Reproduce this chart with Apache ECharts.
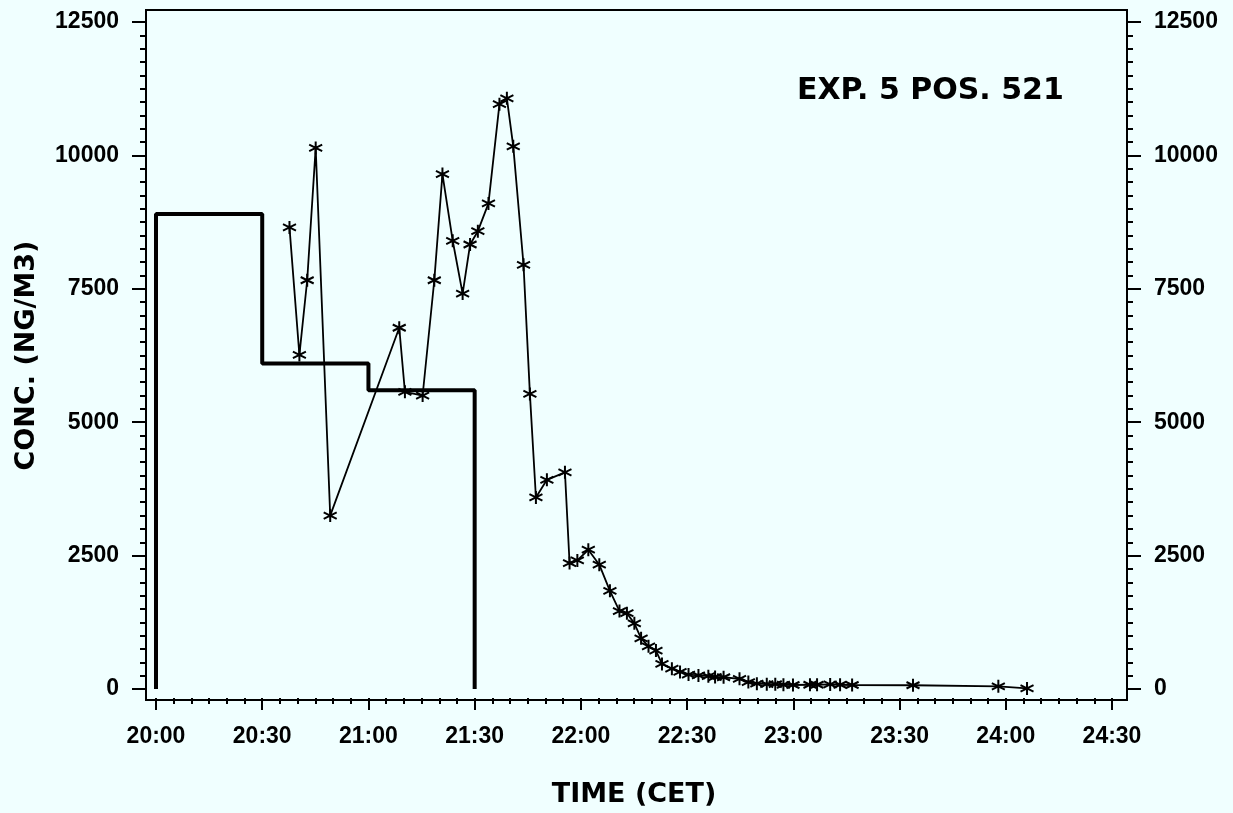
<!DOCTYPE html>
<html>
<head>
<meta charset="utf-8">
<script src="https://cdn.jsdelivr.net/npm/echarts@6/dist/echarts.min.js"></script>
<style>
  html, body { margin: 0; padding: 0; background: #f0ffff; }
  #chart { width: 1233px; height: 813px; }
</style>
</head>
<body>
<div id="chart"></div>
<script>
// minutes after 20:00
var timeLabels = ['20:00', '20:30', '21:00', '21:30', '22:00', '22:30', '23:00', '23:30', '24:00', '24:30'];

// sampler (step) concentration, ng/m3
var stepTime = [0, 0, 30, 60, 90];
var stepConc = [0, 8900, 6100, 5600, 0];

// continuous measurement (asterisks)
var measTime = [37.7, 40.5, 42.7, 45.1, 49.2, 68.7, 70.3, 75.3, 78.6, 80.9,
    83.8, 86.6, 88.7, 90.9, 93.9, 97.0, 99.1, 100.9, 103.8, 105.6,
    107.3, 110.4, 115.5, 116.8, 119.0, 122.1, 125.2, 128.2, 130.9, 133.0,
    135.1, 137.0, 139.1, 141.2, 142.9, 145.7, 148.0, 150.4, 153.2, 156.0,
    157.9, 160.3, 164.8, 167.3, 169.7, 172.5, 174.9, 177.2, 179.9, 184.7,
    186.7, 190.4, 193.2, 196.6, 213.8, 237.9, 246.0];
var measConc = [8650, 6260, 7660, 10140, 3250, 6770, 5570, 5500, 7660, 9650,
    8400, 7410, 8330, 8580, 9100, 10960, 11070, 10170, 7950, 5530,
    3590, 3920, 4060, 2360, 2410, 2610, 2330, 1840, 1460, 1420,
    1230, 950, 800, 720, 470, 380, 320, 270, 255, 240,
    225, 220, 190, 130, 100, 90, 90, 80, 75, 80,
    80, 85, 80, 75, 70, 50, 10];

function pairs(xs, ys) {
    return xs.map(function (x, i) { return [x, ys[i]]; });
}

var tickFont = {
    color: '#000',
    fontFamily: 'Liberation Sans, Arial, sans-serif',
    fontWeight: 'bold',
    fontSize: 23
};
var titleFont = {
    color: '#000',
    fontFamily: 'DejaVu Sans, sans-serif',
    fontWeight: 'bold',
    fontSize: 27
};

// 星号
var asterisk = 'path://M0,-6L0,6M-5.2,-3L5.2,3M-5.2,3L5.2,-3';

function yAxisOpt(pos, offset) {
    return {
        type: 'value',
        position: pos,
        offset: offset,
        min: 0,
        max: 12500,
        interval: 2500,
        axisLine: { show: false, onZero: false },
        axisTick: { show: true, inside: false, length: 14, lineStyle: { color: '#000', width: 2 } },
        minorTick: { show: true, splitNumber: 10, length: 6, lineStyle: { color: '#000', width: 2 } },
        axisLabel: Object.assign({
            margin: 27,
            formatter: function (v) { return String(v); }
        }, tickFont),
        splitLine: { show: false }
    };
}

var chart = echarts.init(document.getElementById('chart'), null, { renderer: 'canvas' });
var yLeft = yAxisOpt('left', 10);
yLeft.name = 'CONC. (NG/M3)';
yLeft.nameLocation = 'middle';
yLeft.nameRotate = 90;
yLeft.nameGap = 106;
yLeft.nameTextStyle = titleFont;

var option = {
    backgroundColor: '#f0ffff',
    animation: false,
    title: {
        text: 'EXP. 5 POS. 521',
        left: 792,
        top: 71,
        textStyle: { color: '#000', fontFamily: 'DejaVu Sans, sans-serif', fontWeight: 'bold', fontSize: 30 }
    },
    grid: { left: 156, right: 121, top: 22, bottom: 122, containLabel: false },
    xAxis: {
        type: 'value',
        min: 0,
        max: 270,
        interval: 30,
        offset: 9,
        name: 'TIME (CET)',
        nameLocation: 'middle',
        nameGap: 83,
        nameTextStyle: titleFont,
        axisLine: { show: false, onZero: false },
        axisTick: { show: true, inside: false, length: 12, lineStyle: { color: '#000', width: 2 } },
        minorTick: { show: true, splitNumber: 6, length: 6, lineStyle: { color: '#000', width: 2 } },
        axisLabel: Object.assign({
            margin: 27,
            formatter: function (v) { return timeLabels[Math.round(v / 30)]; }
        }, tickFont),
        splitLine: { show: false }
    },
    yAxis: [yLeft, yAxisOpt('right', 15)],
    graphic: [{
        type: 'rect',
        shape: { x: 146, y: 10, width: 981, height: 690 },
        style: { fill: 'none', stroke: '#000', lineWidth: 2 },
        silent: true
    }],
    series: [{
        type: 'line',
        step: 'end',
        data: pairs(stepTime, stepConc),
        showSymbol: false,
        lineStyle: { color: '#000', width: 4 },
        z: 2
    }, {
        type: 'line',
        data: pairs(measTime, measConc),
        symbol: asterisk,
        symbolSize: 13,
        showAllSymbol: true,
        itemStyle: { color: '#000', borderColor: '#000', borderWidth: 2 },
        lineStyle: { color: '#000', width: 1.8 },
        z: 3
    }]
};
chart.setOption(option);
</script>
</body>
</html>
